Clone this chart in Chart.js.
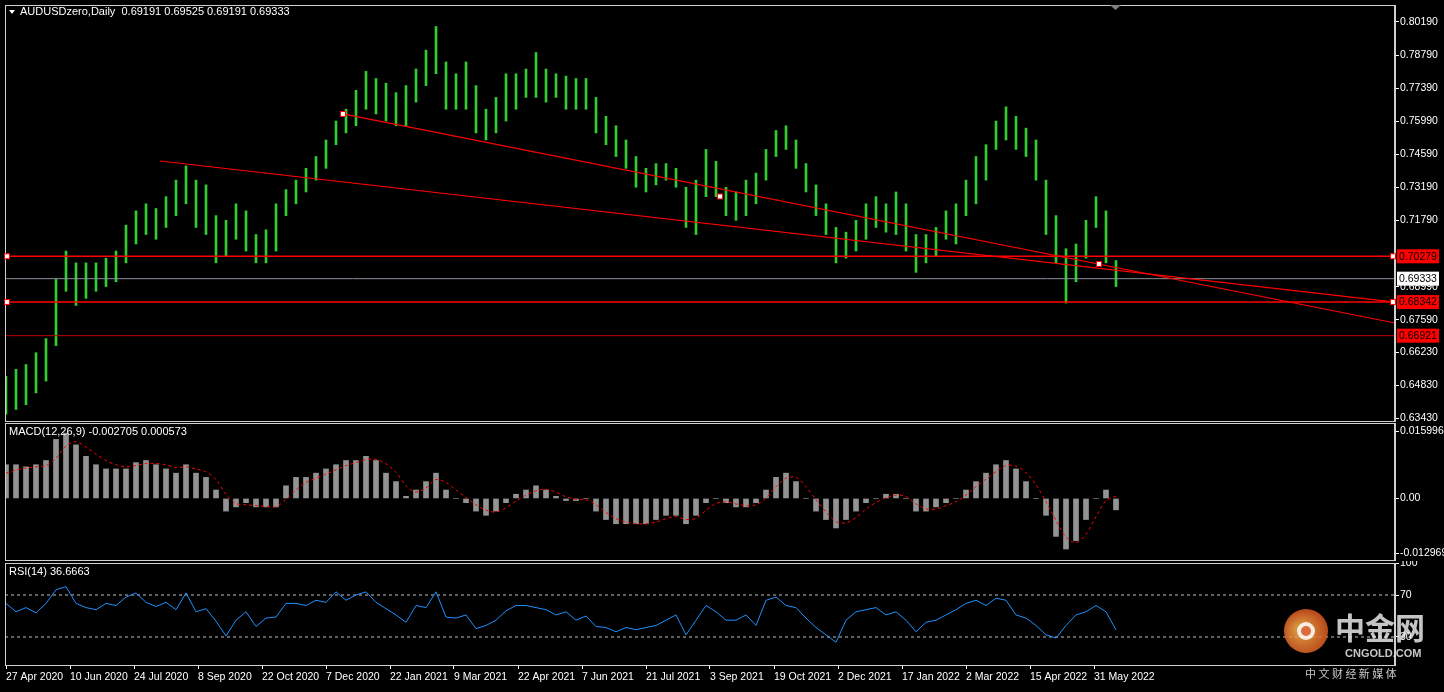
<!DOCTYPE html>
<html>
<head>
<meta charset="utf-8">
<script src="https://cdn.jsdelivr.net/npm/chart.js@4"></script>
<style>
  html, body { margin: 0; padding: 0; background: #000; overflow: hidden; }
  #wrap { position: relative; width: 1444px; height: 692px; background: #000; }
  .pane { position: absolute; left: 0; width: 1444px; }
</style>
</head>
<body>
<div id="wrap">
  <div class="pane" style="top:0;height:423px"><canvas id="priceChart"></canvas></div>
  <div class="pane" style="top:422px;height:140px"><canvas id="macdChart"></canvas></div>
  <div class="pane" style="top:561px;height:131px"><canvas id="rsiChart"></canvas></div>
</div>
<script>
// ---- data (weekly samples, week 0 = 27 Apr 2020) ----
const weekHigh = [0.652,0.655,0.657,0.662,0.668,0.693,0.705,0.700,0.700,0.700,0.702,0.705,0.716,0.722,0.725,0.723,0.728,0.735,0.741,0.735,
  0.733,0.720,0.718,0.725,0.722,0.712,0.714,0.725,0.731,0.735,0.740,0.745,0.752,0.760,0.765,0.773,0.781,0.778,0.776,0.772,
  0.775,0.782,0.790,0.800,0.785,0.780,0.785,0.775,0.765,0.770,0.780,0.780,0.782,0.789,0.782,0.780,0.779,0.778,0.778,0.770,
  0.762,0.758,0.752,0.745,0.740,0.742,0.742,0.740,0.732,0.735,0.748,0.743,0.732,0.730,0.735,0.738,0.748,0.756,0.758,0.752,
  0.742,0.733,0.725,0.715,0.713,0.718,0.725,0.728,0.725,0.730,0.725,0.712,0.712,0.715,0.722,0.725,0.735,0.745,0.750,0.760,
  0.766,0.762,0.757,0.752,0.735,0.720,0.706,0.708,0.718,0.728,0.722,0.701];
const weekLow = [0.636,0.638,0.640,0.645,0.650,0.665,0.688,0.682,0.685,0.688,0.690,0.692,0.700,0.708,0.712,0.710,0.715,0.720,0.725,0.715,
  0.712,0.700,0.703,0.710,0.705,0.700,0.700,0.705,0.720,0.725,0.730,0.735,0.740,0.750,0.755,0.758,0.765,0.763,0.760,0.758,
  0.758,0.768,0.775,0.780,0.765,0.765,0.765,0.755,0.752,0.755,0.760,0.765,0.770,0.770,0.768,0.770,0.765,0.765,0.765,0.755,
  0.750,0.745,0.740,0.732,0.730,0.733,0.735,0.732,0.715,0.712,0.728,0.728,0.720,0.718,0.720,0.725,0.735,0.745,0.748,0.740,
  0.730,0.720,0.712,0.700,0.702,0.705,0.710,0.715,0.713,0.712,0.705,0.696,0.700,0.703,0.710,0.708,0.720,0.725,0.735,0.748,
  0.752,0.748,0.745,0.735,0.712,0.700,0.683,0.692,0.702,0.715,0.700,0.690];
const macdHist = [0.008,0.008,0.0075,0.008,0.009,0.014,0.0155,0.0127,0.010,0.008,0.007,0.007,0.007,0.0085,0.009,0.008,0.007,0.006,0.008,0.006,
  0.005,0.002,-0.003,-0.002,-0.001,-0.002,-0.002,-0.002,0.003,0.005,0.005,0.006,0.007,0.008,0.009,0.009,0.010,0.009,0.006,0.004,
  0.0005,0.002,0.004,0.006,0.002,0.000,-0.001,-0.003,-0.004,-0.003,-0.001,0.001,0.002,0.003,0.002,0.0005,-0.0005,-0.0005,0.000,-0.003,
  -0.005,-0.006,-0.006,-0.006,-0.006,-0.005,-0.004,-0.004,-0.006,-0.004,-0.001,0.000,-0.001,-0.002,-0.002,-0.001,0.002,0.005,0.006,0.004,
  0.000,-0.003,-0.005,-0.007,-0.005,-0.003,-0.001,0.000,0.001,0.001,0.000,-0.003,-0.003,-0.002,-0.001,0.000,0.002,0.004,0.006,0.008,
  0.009,0.007,0.004,0.000,-0.004,-0.009,-0.012,-0.010,-0.005,0.000,0.002,-0.0027];
const macdSignal = [0.006,0.0068,0.0072,0.0075,0.0078,0.0095,0.0125,0.0135,0.0122,0.0105,0.009,0.008,0.0075,0.0078,0.0083,0.0083,0.008,0.0073,0.0075,0.007,
  0.0063,0.0045,0.001,-0.0012,-0.0015,-0.0017,-0.0019,-0.002,-0.0002,0.002,0.0038,0.0048,0.0058,0.0068,0.0078,0.0085,0.0092,0.0093,0.0082,0.0062,
  0.003,0.0015,0.0025,0.0045,0.0038,0.002,0.0003,-0.0015,-0.0028,-0.0032,-0.0022,-0.0006,0.0008,0.0018,0.0022,0.0015,0.0004,-0.0002,-0.0003,-0.0015,
  -0.0033,-0.0048,-0.0056,-0.006,-0.006,-0.0056,-0.0048,-0.0043,-0.005,-0.0047,-0.0028,-0.0012,-0.0008,-0.0013,-0.0017,-0.0015,0.0001,0.0028,0.0048,0.005,
  0.0028,-0.0003,-0.0032,-0.0055,-0.0058,-0.0045,-0.0025,-0.001,0.0002,0.0008,0.0005,-0.0013,-0.0025,-0.0025,-0.0017,-0.0008,0.0008,0.0028,0.0046,0.0064,
  0.0078,0.0077,0.0061,0.0033,-0.0008,-0.0052,-0.0092,-0.0105,-0.0085,-0.0043,-0.0005,0.000573];
const rsiValues = [62,54,58,53,62,75,78,62,58,56,62,60,68,72,63,59,63,56,72,54,
  57,45,31,46,54,40,48,49,62,62,60,65,63,73,65,70,73,63,57,51,
  44,60,58,73,49,48,51,38,41,46,55,60,60,58,56,51,54,46,50,40,
  39,35,39,37,39,41,46,51,32,46,60,54,46,46,51,41,65,68,60,58,
  48,39,32,25,46,54,56,58,51,54,46,35,44,46,51,56,62,65,60,67,
  65,51,48,41,32,29,41,51,54,60,54,36.67];
const dateLabels = ['27 Apr 2020','10 Jun 2020','24 Jul 2020','8 Sep 2020','22 Oct 2020','7 Dec 2020','22 Jan 2021','9 Mar 2021',
  '22 Apr 2021','7 Jun 2021','21 Jul 2021','3 Sep 2021','19 Oct 2021','2 Dec 2021','17 Jan 2022','2 Mar 2022','15 Apr 2022','31 May 2022'];
const priceTicks = [0.80190,0.78790,0.77390,0.75990,0.74590,0.73190,0.71790,0.68990,0.67590,0.66230,0.64830,0.63430];
const levelLines = [0.70279,0.68342,0.66921];
const lastPrice = 0.69333;
// trend lines as [day, price] pairs
const trendA = [[168.5,0.7630],[694.5,0.67458]];
const trendB = [[77,0.74310],[694.5,0.68342]];
const macdTicks = [0.015996,0,-0.012969];
const rsiLevels = [70,30];
const rsiTicks = [100,70,30];

const DAYS_PER_WEEK = 5;
const X_MIN = -0.5, X_MAX = 694.5;
const FONT = { family: 'Liberation Sans, Arial, sans-serif', size: 11 };
const AXIS_FONT = { family: 'Liberation Sans, Arial, sans-serif', size: 10.5 };

Chart.defaults.animation = false;
Chart.defaults.color = '#ffffff';
Chart.defaults.font = FONT;

const weekX = i => i * DAYS_PER_WEEK;
const fixedRightAxis = scale => { scale.width = 49; scale.paddingTop = 0; scale.paddingBottom = 0; };

function baseX(display) {
  return { type: 'linear', min: X_MIN, max: X_MAX, offset: false, display: display, grid: { display: false } };
}

// frame + overlays
function framePlugin(extra) {
  return {
    id: 'frame',
    beforeDraw(chart) {
      const c = chart.ctx;
      c.save();
      c.fillStyle = '#000';
      c.fillRect(0, 0, chart.width, chart.height);
      c.restore();
    },
    afterDraw(chart) {
      const c = chart.ctx, a = chart.chartArea;
      c.save();
      c.strokeStyle = '#d0d0d0';
      c.lineWidth = 1;
      c.strokeRect(a.left + 0.5, a.top + 0.5, a.right - a.left - 1, a.bottom - a.top);
      c.restore();
      if (extra) extra(chart);
    }
  };
}

// ---------- price pane ----------
const priceDatasets = [{
  type: 'bar',
  data: weekHigh.map((h, i) => ({ x: weekX(i), y: [weekLow[i], h] })),
  backgroundColor: '#33cc33',
  barThickness: 2,
  order: 5
}];
levelLines.forEach((v, k) => priceDatasets.push({
  type: 'line', data: [{ x: X_MIN, y: v }, { x: X_MAX, y: v }],
  borderColor: k < 2 ? '#ff0000' : '#c00000', borderWidth: k < 2 ? 1.5 : 1, pointRadius: 0, order: 1
}));
priceDatasets.push({ type: 'line', data: [{ x: X_MIN, y: lastPrice }, { x: X_MAX, y: lastPrice }],
  borderColor: '#8a9099', borderWidth: 1, pointRadius: 0, order: 2 });
[trendA, trendB].forEach(t => priceDatasets.push({
  type: 'line', data: t.map(p => ({ x: p[0], y: p[1] })),
  borderColor: '#ff0000', borderWidth: 1.2, pointRadius: 0, order: 1
}));

function drawTag(c, y, text, bg, fg) {
  c.fillStyle = bg;
  c.fillRect(1397, y - 7, 42, 14);
  c.fillStyle = fg;
  c.font = '10.5px Liberation Sans, Arial, sans-serif';
  c.textAlign = 'left';
  c.textBaseline = 'middle';
  c.fillText(text, 1399, y + 0.5);
}
function marker(c, x, y) {
  c.fillStyle = '#fff';
  c.strokeStyle = '#ff0000';
  c.lineWidth = 1;
  c.fillRect(x - 2.5, y - 2.5, 5, 5);
  c.strokeRect(x - 2.5, y - 2.5, 5, 5);
}

new Chart(document.getElementById('priceChart'), {
  data: { datasets: priceDatasets },
  options: {
    responsive: true, maintainAspectRatio: false,
    layout: { padding: { left: 5, top: 5, bottom: 2, right: 0 } },
    plugins: { legend: { display: false }, tooltip: { enabled: false } },
    scales: {
      x: baseX(false),
      y: {
        position: 'right', min: 0.63312, max: 0.80909, afterFit: fixedRightAxis,
        afterBuildTicks: s => { s.ticks = priceTicks.map(v => ({ value: v })); },
        grid: { drawOnChartArea: false, color: '#fff', tickLength: 4 },
        border: { color: '#d0d0d0' },
        ticks: { color: '#fff', padding: 1, font: AXIS_FONT, callback: v => v.toFixed(5) }
      }
    }
  },
  plugins: [framePlugin(chart => {
    const c = chart.ctx, xs = chart.scales.x, ys = chart.scales.y;
    c.save();
    levelLines.slice(0, 2).forEach(v => { marker(c, 7, ys.getPixelForValue(v)); marker(c, 1393, ys.getPixelForValue(v)); });
    [trendA[0], [546.5, 0.69953]].forEach(p => marker(c, xs.getPixelForValue(p[0]), ys.getPixelForValue(p[1])));
    marker(c, xs.getPixelForValue(357), ys.getPixelForValue(0.72810));
    drawTag(c, ys.getPixelForValue(levelLines[0]), '0.70279', '#ff0000', '#000');
    drawTag(c, ys.getPixelForValue(lastPrice), '0.69333', '#ffffff', '#000');
    drawTag(c, ys.getPixelForValue(levelLines[1]), '0.68342', '#ff0000', '#000');
    drawTag(c, ys.getPixelForValue(levelLines[2]), '0.66921', '#ff0000', '#000');
    // title
    c.fillStyle = '#fff';
    c.beginPath(); c.moveTo(9, 10); c.lineTo(15, 10); c.lineTo(12, 14); c.closePath(); c.fill();
    c.font = '11px Liberation Sans, Arial, sans-serif';
    c.textAlign = 'left'; c.textBaseline = 'middle';
    c.fillText('AUDUSDzero,Daily  0.69191 0.69525 0.69191 0.69333', 20, 12);
    c.fillStyle = '#808080';
    c.beginPath(); c.moveTo(1110, 5); c.lineTo(1121, 5); c.lineTo(1115.5, 10); c.closePath(); c.fill();
    c.restore();
  })]
});

// ---------- MACD pane ----------
new Chart(document.getElementById('macdChart'), {
  data: { datasets: [
    { type: 'bar', data: macdHist.map((v, i) => ({ x: weekX(i), y: v })), backgroundColor: 'rgba(210,210,210,0.7)', barThickness: 5, order: 2 },
    { type: 'line', data: macdSignal.map((v, i) => ({ x: weekX(i), y: v })), borderColor: '#ff0000', borderWidth: 1,
      borderDash: [3, 3], pointRadius: 0, tension: 0.3, order: 1 }
  ] },
  options: {
    responsive: true, maintainAspectRatio: false,
    layout: { padding: { left: 5, top: 1, bottom: 2, right: 0 } },
    plugins: { legend: { display: false }, tooltip: { enabled: false } },
    scales: {
      x: baseX(false),
      y: {
        position: 'right', min: -0.0146, max: 0.0179, afterFit: fixedRightAxis,
        afterBuildTicks: s => { s.ticks = macdTicks.map(v => ({ value: v })); },
        grid: { drawOnChartArea: false, color: '#fff', tickLength: 4 },
        border: { color: '#d0d0d0' },
        ticks: { color: '#fff', padding: 1, font: AXIS_FONT, callback: v => v === 0 ? '0.00' : v.toFixed(6) }
      }
    }
  },
  plugins: [framePlugin(chart => {
    const c = chart.ctx;
    c.save();
    c.fillStyle = '#fff';
    c.font = '11px Liberation Sans, Arial, sans-serif';
    c.textBaseline = 'middle';
    c.fillText('MACD(12,26,9) -0.002705 0.000573', 9, 10);
    c.restore();
  })]
});

// ---------- RSI pane ----------
const rsiDatasets = [{ type: 'line', data: rsiValues.map((v, i) => ({ x: weekX(i), y: v })),
  borderColor: '#1e90ff', borderWidth: 1, pointRadius: 0, order: 1 }];
rsiLevels.forEach(l => rsiDatasets.push({ type: 'line', data: [{ x: X_MIN, y: l }, { x: X_MAX, y: l }],
  borderColor: '#c0c0c0', borderWidth: 1, borderDash: [3, 3], pointRadius: 0, order: 2 }));

new Chart(document.getElementById('rsiChart'), {
  data: { datasets: rsiDatasets },
  options: {
    responsive: true, maintainAspectRatio: false,
    layout: { padding: { left: 5, top: 2, bottom: 0, right: 0 } },
    plugins: { legend: { display: false }, tooltip: { enabled: false } },
    scales: {
      x: {
        type: 'linear', min: X_MIN, max: X_MAX, offset: false,
        afterBuildTicks: s => { s.ticks = dateLabels.map((_, i) => ({ value: i * 32 })); },
        afterFit: s => { s.height = 27; s.paddingLeft = 0; s.paddingRight = 0; },
        grid: { drawOnChartArea: false, color: '#fff', tickLength: 4 },
        border: { color: '#d0d0d0' },
        ticks: { color: '#fff', align: 'start', maxRotation: 0, autoSkip: false, padding: 2, font: AXIS_FONT,
          callback: (v) => dateLabels[Math.round(v / 32)] }
      },
      y: {
        position: 'right', min: 3.3, max: 100.5, afterFit: fixedRightAxis,
        afterBuildTicks: s => { s.ticks = rsiTicks.map(v => ({ value: v })); },
        grid: { drawOnChartArea: false, color: '#fff', tickLength: 4 },
        border: { color: '#d0d0d0' },
        ticks: { color: '#fff', padding: 1, font: AXIS_FONT }
      }
    }
  },
  plugins: [framePlugin(chart => {
    const c = chart.ctx;
    c.save();
    c.fillStyle = '#fff';
    c.font = '11px Liberation Sans, Arial, sans-serif';
    c.textBaseline = 'middle';
    c.fillText('RSI(14) 36.6663', 9, 11);
    // watermark
    c.globalAlpha = 0.85;
    const g = c.createRadialGradient(1300, 68, 4, 1305, 72, 24);
    g.addColorStop(0, '#ffb04a'); g.addColorStop(1, '#d9531e');
    c.fillStyle = g;
    c.beginPath(); c.arc(1306, 70, 22, 0, Math.PI * 2); c.fill();
    c.fillStyle = '#fff';
    c.beginPath(); c.arc(1306, 70, 9, 0, Math.PI * 2); c.fill();
    c.fillStyle = '#d9531e';
    c.beginPath(); c.arc(1306, 70, 5, 0, Math.PI * 2); c.fill();
    c.fillStyle = '#e8e8e8';
    c.font = 'bold 30px Noto Sans CJK SC';
    c.fillText('中金网', 1335, 67);
    c.font = 'bold 11px Liberation Sans, Arial, sans-serif';
    c.fillText('CNGOLD.COM', 1345, 93);
    c.font = '11px Noto Sans CJK SC';
    c.fillText('中 文 财 经 新 媒 体', 1305, 113);
    c.restore();
  })]
});
</script>
</body>
</html>
